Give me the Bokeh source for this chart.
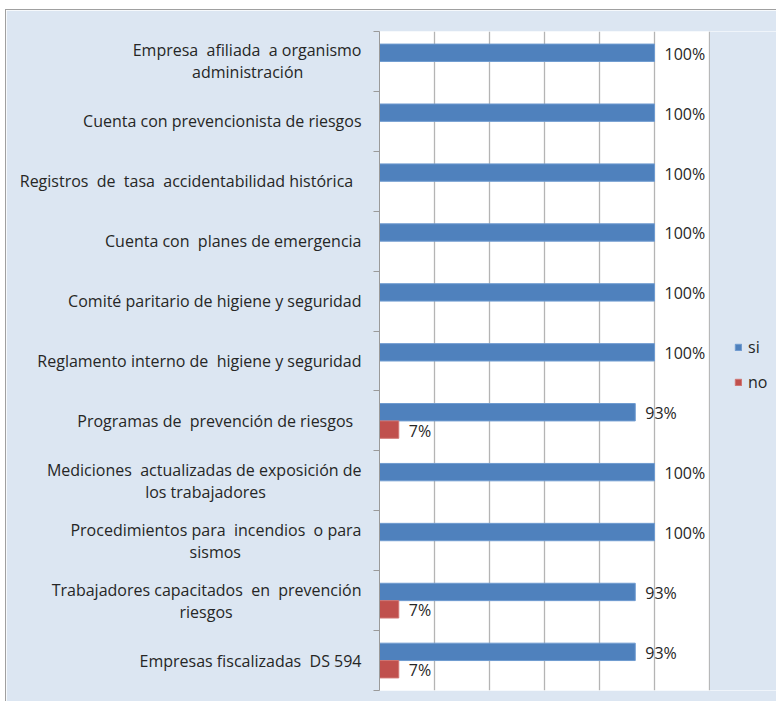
from bokeh.plotting import figure
from bokeh.models import FixedTicker, Legend, LegendItem, ColumnDataSource, Range1d, BoxAnnotation
from bokeh.core.properties import value
from bokeh.embed import file_html
from bokeh.resources import INLINE

NB = "\u00a0"
categories = [
    "Empresa  afiliada  a organismo\nadministración",
    "Cuenta con prevencionista de riesgos",
    "Registros  de  tasa  accidentabilidad histórica  ",
    "Cuenta con  planes de emergencia",
    "Comité paritario de higiene y seguridad",
    "Reglamento interno de  higiene y seguridad",
    "Programas de  prevención de riesgos  ",
    "Mediciones  actualizadas de exposición de\nlos trabajadores",
    "Procedimientos para  incendios  o para\nsismos",
    "Trabajadores capacitados  en  prevención\nriesgos",
    "Empresas fiscalizadas  DS 594",
]
si = [1.00, 1.00, 1.00, 1.00, 1.00, 1.00, 0.93, 1.00, 1.00, 0.93, 0.93]
no = [0.00, 0.00, 0.00, 0.00, 0.00, 0.00, 0.07, 0.00, 0.00, 0.07, 0.07]
series_names = ["si", "no"]
x_ticks = [0.0, 0.2, 0.4, 0.6, 0.8, 1.0, 1.2]

n = len(categories)
centers = [n - i - 0.5 for i in range(n)]
bar_h = 0.29

# second lines are centred under the first: pad them on the right (right-aligned axis labels)
second_line_pad = {0: 14, 7: 23, 8: 29, 9: 31}
shown = []
for i, c in enumerate(categories):
    s = c.replace("  ", NB + " ")
    if "\n" in s:
        a, b = s.split("\n")
        s = a + "\n" + b + NB * second_line_pad.get(i, 0)
    shown.append(s)

FONT = "Open Sans"
BLUE = "#4f81bd"
RED = "#c0504d"
TXT = "#262626"
BG = "#dce6f2"

plot_w = 330.0   # px of the white plot area (0 .. 120 %)
right_w = 68.0   # px of the legend zone to its right
x_end = x_ticks[-1] * (plot_w + right_w) / plot_w

p = figure(width=771, height=692, output_backend="svg", toolbar_location=None,
           x_range=Range1d(0, x_end), y_range=Range1d(0, n),
           min_border_left=373, min_border_right=0, min_border_top=21, min_border_bottom=12)
p.background_fill_color = "white"
p.border_fill_color = BG
p.outline_line_color = None
p.styles = {"margin-left": "5px", "margin-top": "9px",
            "border-left": "1px solid #a0a0a0", "border-top": "1px solid #a0a0a0"}

# zone right of the 120 % line belongs to the chart background
p.add_layout(BoxAnnotation(left=x_ticks[-1] + 0.0015, fill_color=BG, fill_alpha=1.0,
                           line_color=None, level="underlay"))

src_si = ColumnDataSource(dict(y=[c + bar_h / 2 for c in centers], right=si))
src_no = ColumnDataSource(dict(y=[c - bar_h / 2 for c in centers], right=no))

r_si = p.hbar(y="y", right="right", left=0, height=bar_h, source=src_si,
              fill_color=BLUE, line_color="#6f9bd0", line_width=1)
r_no = p.hbar(y="y", right="right", left=0, height=bar_h, source=src_no,
              fill_color=RED, line_color="#d07572", line_width=1)

lab_si = ColumnDataSource(dict(x=[v for v in si if v > 0],
                               y=[c + bar_h / 2 for c, v in zip(centers, si) if v > 0],
                               t=[f"{round(v*100)}%" for v in si if v > 0]))
lab_no = ColumnDataSource(dict(x=[v for v in no if v > 0],
                               y=[c - bar_h / 2 for c, v in zip(centers, no) if v > 0],
                               t=[f"{round(v*100)}%" for v in no if v > 0]))
for s in (lab_si, lab_no):
    p.text(x="x", y="y", text="t", source=s, x_offset=10, y_offset=1,
           text_baseline="middle", text_align="left",
           text_font=value(FONT), text_font_size="16px", text_color=TXT)

# grid
p.xgrid.ticker = FixedTicker(ticks=x_ticks)
p.xgrid.grid_line_color = "#b4b4b4"
p.xgrid.grid_line_width = 1.3
p.ygrid.grid_line_color = None
p.xaxis.visible = False

yax = p.yaxis[0]
yax.ticker = FixedTicker(ticks=centers, minor_ticks=list(range(0, n + 1)))
yax.major_label_overrides = {c: lab for c, lab in zip(centers, shown)}
yax.major_tick_line_color = None
yax.minor_tick_line_color = "#9a9a9a"
yax.minor_tick_out = 6
yax.minor_tick_in = 0
yax.axis_line_color = "#9a9a9a"
yax.major_label_standoff = 12
yax.major_label_text_font = FONT
yax.major_label_text_font_size = "16px"
yax.major_label_text_color = TXT
yax.major_label_text_align = "right"
yax.major_label_text_line_height = 1.0

legend = Legend(items=[LegendItem(label=series_names[0], renderers=[r_si]),
                       LegendItem(label=series_names[1], renderers=[r_no])],
                location=(355, 297), orientation="vertical")
legend.background_fill_alpha = 0
legend.border_line_color = None
legend.glyph_width = 8
legend.glyph_height = 8
legend.label_standoff = 6
legend.label_width = 18
legend.spacing = 13
legend.padding = 6
legend.margin = 0
legend.label_text_font = FONT
legend.label_text_font_size = "16px"
legend.label_text_color = TXT
legend.label_height = 20
p.add_layout(legend, "center")

open("out.html", "w").write(file_html(p, INLINE))
